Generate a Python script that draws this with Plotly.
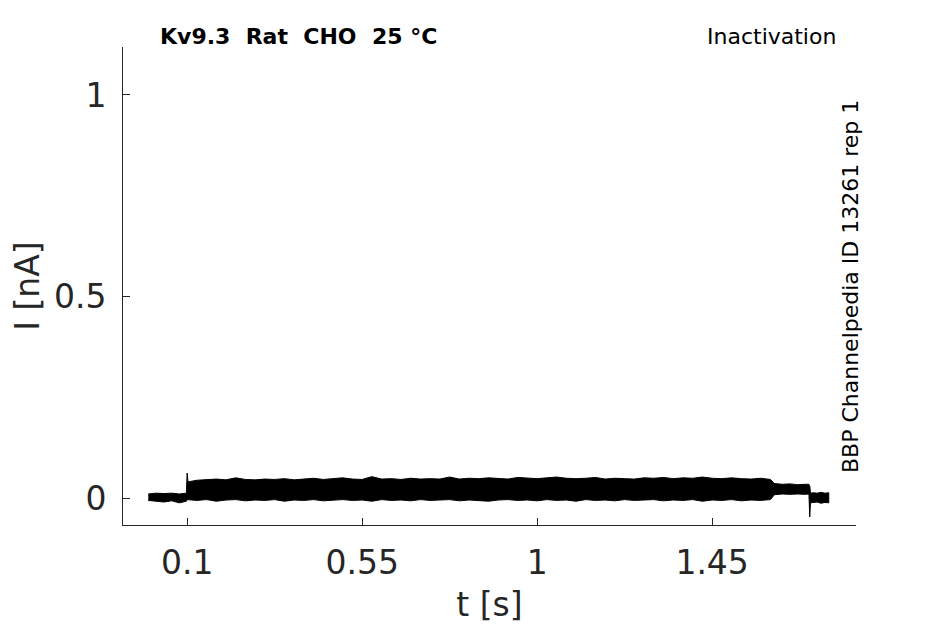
import plotly.graph_objects as go

t_pre = [0.0, 0.02, 0.04, 0.06, 0.08, 0.098]
up_pre = [0.010, 0.012, 0.011, 0.012, 0.010, 0.012]
lo_pre = [-0.006, -0.008, -0.010, -0.007, -0.012, -0.008]

t_step = [0.1, 0.102]
up_step = [0.062, 0.040]
lo_step = [-0.004, -0.004]

t_main = [0.125, 0.15, 0.175, 0.2, 0.225, 0.25, 0.275, 0.3, 0.325, 0.35,
          0.375, 0.4, 0.425, 0.45, 0.475, 0.5, 0.525, 0.55, 0.575, 0.6,
          0.625, 0.65, 0.675, 0.7, 0.725, 0.75, 0.775, 0.8, 0.825, 0.85,
          0.875, 0.9, 0.925, 0.95, 0.975, 1.0, 1.025, 1.05, 1.075, 1.1,
          1.125, 1.15, 1.175, 1.2, 1.225, 1.25, 1.275, 1.3, 1.325, 1.35,
          1.375, 1.4, 1.425, 1.45, 1.475, 1.5, 1.525, 1.55, 1.575, 1.6]
up_main = [0.044, 0.046, 0.047, 0.045, 0.050, 0.046, 0.045, 0.047, 0.046, 0.048,
           0.045, 0.047, 0.049, 0.046, 0.048, 0.050, 0.047, 0.046, 0.053, 0.047,
           0.048, 0.046, 0.049, 0.047, 0.048, 0.047, 0.052, 0.047, 0.049, 0.048,
           0.050, 0.048, 0.047, 0.051, 0.049, 0.048, 0.050, 0.052, 0.049, 0.048,
           0.049, 0.051, 0.047, 0.049, 0.048, 0.047, 0.050, 0.049, 0.051, 0.048,
           0.050, 0.049, 0.052, 0.049, 0.048, 0.050, 0.048, 0.047, 0.049, 0.046]
lo_main = [-0.006, -0.004, -0.008, -0.005, -0.004, -0.007, -0.005, -0.006, -0.004, -0.008,
           -0.005, -0.006, -0.004, -0.007, -0.005, -0.004, -0.006, -0.005, -0.008, -0.004,
           -0.006, -0.005, -0.007, -0.004, -0.006, -0.005, -0.004, -0.007, -0.005, -0.006,
           -0.008, -0.005, -0.004, -0.006, -0.005, -0.007, -0.004, -0.006, -0.005, -0.008,
           -0.004, -0.006, -0.005, -0.007, -0.004, -0.006, -0.005, -0.004, -0.007, -0.005,
           -0.006, -0.004, -0.008, -0.005, -0.006, -0.004, -0.007, -0.005, -0.006, -0.004]

t_tail = [1.61, 1.63, 1.65, 1.67, 1.69, 1.699]
up_tail = [0.036, 0.034, 0.035, 0.033, 0.034, 0.034]
lo_tail = [0.008, 0.010, 0.009, 0.010, 0.009, 0.010]

t_off = [1.701, 1.703, 1.71, 1.72, 1.73, 1.74, 1.75]
up_off = [0.030, 0.012, 0.013, 0.012, 0.014, 0.012, 0.013]
lo_off = [-0.047, -0.012, -0.012, -0.010, -0.013, -0.011, -0.012]

x_ticks = [0.1, 0.55, 1, 1.45]
y_ticks = [0, 0.5, 1]

t_all = t_pre + t_step + t_main + t_tail + t_off
up_all = up_pre + up_step + up_main + up_tail + up_off
lo_all = lo_pre + lo_step + lo_main + lo_tail + lo_off

ink = '#262626'
font = 'DejaVu Sans'

fig = go.Figure()
fig.add_trace(go.Scatter(
    x=t_all + t_all[::-1], y=up_all + lo_all[::-1],
    fill='toself', fillcolor='black', mode='lines',
    line=dict(color='black', width=1), showlegend=False, hoverinfo='skip'))

# page body has an 8px margin, so the figure is a bit smaller than the window
fig.update_layout(
    width=937, height=616,
    margin=dict(l=115, r=89, t=39, b=99),
    paper_bgcolor='white', plot_bgcolor='white',
    font=dict(family=font, color=ink),
    xaxis=dict(range=[-0.065, 1.82], tickvals=x_ticks, ticktext=['0.1', '0.55', '1', '1.45'],
               showgrid=False, zeroline=False, showline=True, linecolor=ink, linewidth=1,
               ticks='inside', ticklen=7, tickcolor=ink, tickfont=dict(size=33, color=ink),
               ticklabelstandoff=8, automargin=False,
               title=dict(text='t [s]', font=dict(size=33, color=ink), standoff=12)),
    yaxis=dict(range=[-0.067, 1.119], tickvals=y_ticks, ticktext=['0', '0.5', '1'],
               showgrid=False, zeroline=False, showline=True, linecolor=ink, linewidth=1,
               ticks='inside', ticklen=7, tickcolor=ink, tickfont=dict(size=33, color=ink),
               ticklabelstandoff=9, automargin=False,
               title=dict(text='I [nA]', font=dict(size=33, color=ink), standoff=8)),
)

fig.add_annotation(x=(158 - 123) / 733, y=1.0, xref='paper', yref='paper',
                   text='<b>Kv9.3  Rat  CHO  25 °C</b>', showarrow=False,
                   xanchor='left', yanchor='bottom', yshift=-4,
                   font=dict(size=22, color='black', family=font))
fig.add_annotation(x=(838 - 123) / 733, y=1.0, xref='paper', yref='paper',
                   text='Inactivation', showarrow=False,
                   xanchor='right', yanchor='bottom', yshift=-4,
                   font=dict(size=22, color='black', family=font))
fig.add_annotation(x=(850 - 123) / 733, y=(525 - 287) / 478, xref='paper', yref='paper',
                   text='BBP Channelpedia ID 13261 rep 1', showarrow=False, textangle=-90,
                   xanchor='center', yanchor='middle',
                   font=dict(size=22, color='black', family=font))

fig.write_html("out.html")
